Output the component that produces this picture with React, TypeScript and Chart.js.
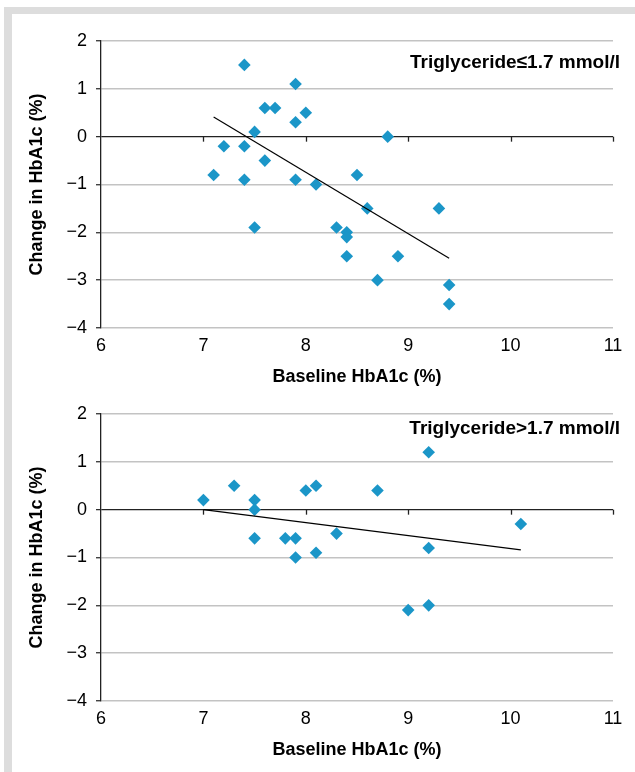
import React, { useEffect, useRef } from "react";
import { Chart, registerables } from "chart.js";

Chart.register(...registerables);

// ---- data ----
const xTicks = [6, 7, 8, 9, 10, 11];
const yTicks = [2, 1, 0, -1, -2, -3, -4];

const lowTgX = [7.4, 7.9, 7.6, 7.7, 8.0, 7.9, 7.5, 8.8, 7.2, 7.4, 7.6, 7.1, 8.5, 7.4, 7.9, 8.1, 8.6, 9.3, 7.5, 8.3, 8.4, 8.4, 8.4, 8.9, 8.7, 9.4, 9.4];
const lowTgY = [1.5, 1.1, 0.6, 0.6, 0.5, 0.3, 0.1, 0.0, -0.2, -0.2, -0.5, -0.8, -0.8, -0.9, -0.9, -1.0, -1.5, -1.5, -1.9, -1.9, -2.0, -2.1, -2.5, -2.5, -3.0, -3.1, -3.5];
const lowTrendX = [7.1, 9.4];
const lowTrendY = [0.41, -2.54];

const highTgX = [7.0, 7.3, 7.5, 7.5, 7.5, 7.8, 7.9, 7.9, 8.0, 8.1, 8.1, 8.3, 8.7, 9.2, 9.2, 10.1, 9.0, 9.2];
const highTgY = [0.2, 0.5, 0.2, 0.0, -0.6, -0.6, -0.6, -1.0, 0.4, 0.5, -0.9, -0.5, 0.4, 1.2, -0.8, -0.3, -2.1, -2.0];
const highTrendX = [7.0, 10.1];
const highTrendY = [0.0, -0.84];

const xTitle = "Baseline HbA1c (%)";
const yTitle = "Change in HbA1c (%)";
const lowLabel = "Triglyceride≤1.7 mmol/l";
const highLabel = "Triglyceride>1.7 mmol/l";

// ---- styling ----
const FONT = "'Liberation Sans', Arial, sans-serif";
const MARKER = "#1b96c8";
const GRID = "#c3c3c3";
const AXIS = "#222222";
const CW = 635;
const CH = 399;

const fmt = (v: number | string) => {
  const n = Number(v);
  return n < 0 ? "\u2212" + Math.abs(n) : String(n);
};

const panelPlugin = {
  id: "panelExtras",
  beforeDatasetsDraw(chart: any) {
    const { ctx } = chart;
    const xs = chart.scales.x;
    const ys = chart.scales.y;
    const y0 = ys.getPixelForValue(0);
    ctx.save();
    ctx.strokeStyle = AXIS;
    ctx.lineWidth = 1.3;
    for (const v of xTicks) {
      if (v === xs.min) continue;
      const px = Math.round(xs.getPixelForValue(v)) + 0.5;
      ctx.beginPath();
      ctx.moveTo(px, y0);
      ctx.lineTo(px, y0 + 5);
      ctx.stroke();
    }
    ctx.restore();
  },
  afterDraw(chart: any, _args: any, opts: any) {
    const { ctx, chartArea } = chart;
    ctx.save();
    ctx.font = `bold 19px ${FONT}`;
    ctx.fillStyle = "#000";
    ctx.textAlign = "right";
    ctx.textBaseline = "alphabetic";
    ctx.fillText(opts.text, chartArea.right + 7, chartArea.top + opts.dy);
    ctx.restore();
  },
};

type PanelProps = {
  xs: number[];
  ys: number[];
  tx: number[];
  ty: number[];
  label: string;
  dy: number;
  top: number;
};

function Panel({ xs, ys, tx, ty, label, dy, top }: PanelProps) {
  const ref = useRef<HTMLCanvasElement | null>(null);
  useEffect(() => {
    if (!ref.current) return;
    const chart = new Chart(ref.current, {
      type: "scatter",
      data: {
        datasets: [
          {
            label: "trend",
            data: tx.map((x, i) => ({ x, y: ty[i] })),
            showLine: true,
            borderColor: "#000",
            borderWidth: 1.2,
            pointRadius: 0,
            order: 0,
          } as any,
          {
            label: "points",
            data: xs.map((x, i) => ({ x, y: ys[i] })),
            pointStyle: "rectRot",
            pointRadius: 6.3,
            pointBackgroundColor: MARKER,
            pointBorderColor: MARKER,
            pointBorderWidth: 0,
            order: 1,
          } as any,
        ],
      },
      options: {
        animation: false,
        responsive: false,
        maintainAspectRatio: false,
        layout: { padding: { top: 41, right: 22, bottom: 11, left: 0 } },
        plugins: {
          legend: { display: false },
          tooltip: { enabled: false },
          panelExtras: { text: label, dy },
        } as any,
        scales: {
          x: {
            type: "linear",
            min: 6,
            max: 11,
            afterBuildTicks: (s: any) => {
              s.ticks = xTicks.map((v) => ({ value: v }));
            },
            grid: { display: false, drawTicks: false },
            border: { display: false },
            ticks: {
              padding: 7,
              color: "#000",
              font: { family: FONT, size: 18 },
              callback: (v: any) => fmt(v),
              maxRotation: 0,
            },
            title: {
              display: true,
              text: xTitle,
              color: "#000",
              font: { family: FONT, size: 18, weight: "bold" },
              padding: { top: 0, bottom: 0 },
            },
            afterFit: (s: any) => {
              s.height = 60;
            },
          },
          y: {
            type: "linear",
            min: -4,
            max: 2,
            afterBuildTicks: (s: any) => {
              s.ticks = yTicks.map((v) => ({ value: v }));
            },
            grid: {
              color: (c: any) => (c.tick && c.tick.value === 0 ? AXIS : GRID),
              lineWidth: (c: any) => (c.tick && c.tick.value === 0 ? 1.3 : 1.5),
              tickColor: AXIS,
              tickLength: 5,
              tickWidth: 1.2,
              drawTicks: true,
            },
            border: { display: true, color: AXIS, width: 1.3 },
            ticks: {
              padding: 9,
              color: "#000",
              font: { family: FONT, size: 18 },
              callback: (v: any) => fmt(v),
            },
            title: {
              display: true,
              text: yTitle,
              color: "#000",
              font: { family: FONT, size: 18, weight: "bold" },
              padding: { top: 26, bottom: 0 },
            },
            afterFit: (s: any) => {
              s.width = 101;
            },
          },
        },
      } as any,
      plugins: [panelPlugin as any],
    });
    return () => chart.destroy();
  }, []);
  return (
    <canvas
      ref={ref}
      width={CW}
      height={CH}
      style={{ position: "absolute", left: 0, top, width: CW, height: CH }}
    />
  );
}

export default function App() {
  return (
    <div style={{ position: "absolute", left: 0, top: 0, width: 635, height: 772, background: "#fff", overflow: "hidden" }}>
      <div style={{ position: "absolute", left: 4, top: 7, width: 8, height: 765, background: "#dddddd" }} />
      <div style={{ position: "absolute", left: 4, top: 7, width: 631, height: 7, background: "#dddddd" }} />
      <Panel xs={lowTgX} ys={lowTgY} tx={lowTrendX} ty={lowTrendY} label={lowLabel} dy={26.7} top={0} />
      <Panel xs={highTgX} ys={highTgY} tx={highTrendX} ty={highTrendY} label={highLabel} dy={20.3} top={373} />
    </div>
  );
}
